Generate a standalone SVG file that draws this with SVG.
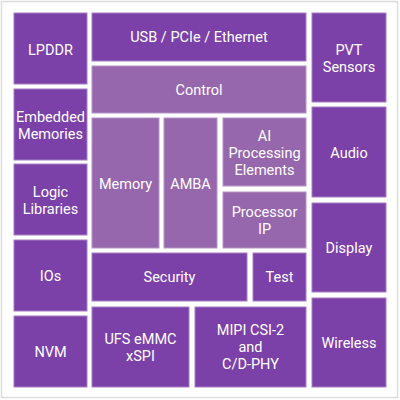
<svg xmlns="http://www.w3.org/2000/svg" width="400" height="400" viewBox="0 0 400 400">
<style>
.d{fill:#7b41a8;stroke:#a77fc6;stroke-width:1}
.l{fill:#9667ac;stroke:#b594c6;stroke-width:1}
text{font-family:Roboto,"Liberation Sans",sans-serif;font-size:14.5px;fill:#fff;text-anchor:middle}
</style>
<rect x="1.5" y="1.5" width="396" height="396" fill="#fff" stroke="#dcdcdc" stroke-width="1.5"/>
<g id="lpddr"><rect class="d" x="14" y="13" width="73" height="71"/><text x="50.5" y="55">LPDDR</text></g>
<g id="embedded"><rect class="d" x="14" y="89" width="73" height="71"/><text x="50.5" y="122">Embedded<tspan x="50.5" dy="17">Memories</tspan></text></g>
<g id="logic"><rect class="d" x="14" y="164" width="73" height="71"/><text x="50.5" y="197">Logic<tspan x="50.5" dy="17">Libraries</tspan></text></g>
<g id="ios"><rect class="d" x="14" y="240" width="73" height="71"/><text x="50.5" y="281">IOs</text></g>
<g id="nvm"><rect class="d" x="14" y="316" width="73" height="71"/><text x="50.5" y="357">NVM</text></g>
<g id="usb"><rect class="d" x="92" y="13" width="214" height="48"/><text x="199" y="42">USB / PCIe / Ethernet</text></g>
<g id="control"><rect class="l" x="92" y="66" width="214" height="47"/><text x="199" y="95">Control</text></g>
<g id="memory"><rect class="l" x="92" y="118" width="67" height="130"/><text x="125.5" y="189">Memory</text></g>
<g id="amba"><rect class="l" x="164" y="118" width="53" height="130"/><text x="190.5" y="189">AMBA</text></g>
<g id="ai"><rect class="l" x="223" y="118" width="83" height="68"/><text x="264.5" y="141">AI<tspan x="264.5" dy="17">Processing</tspan><tspan x="264.5" dy="17">Elements</tspan></text></g>
<g id="processor"><rect class="l" x="223" y="192" width="83" height="56"/><text x="264.5" y="217">Processor<tspan x="264.5" dy="17">IP</tspan></text></g>
<g id="security"><rect class="d" x="92" y="253" width="155" height="48"/><text x="169.5" y="282">Security</text></g>
<g id="test"><rect class="d" x="253" y="253" width="53" height="48"/><text x="279.5" y="282">Test</text></g>
<g id="ufs"><rect class="d" x="92" y="307" width="97" height="80"/><text x="140.5" y="344">UFS eMMC<tspan x="140.5" dy="17">xSPI</tspan></text></g>
<g id="mipi"><rect class="d" x="195" y="307" width="111" height="80"/><text x="250.5" y="335">MIPI CSI-2<tspan x="250.5" dy="17">and</tspan><tspan x="250.5" dy="17">C/D-PHY</tspan></text></g>
<g id="pvt"><rect class="d" x="312" y="13" width="74" height="89"/><text x="349" y="55">PVT<tspan x="349" dy="17">Sensors</tspan></text></g>
<g id="audio"><rect class="d" x="312" y="107" width="74" height="90"/><text x="349" y="158">Audio</text></g>
<g id="display"><rect class="d" x="312" y="203" width="74" height="89"/><text x="349" y="253">Display</text></g>
<g id="wireless"><rect class="d" x="312" y="298" width="74" height="89"/><text x="349" y="348">Wireless</text></g>
<g id="connectors"></g>
</svg>
